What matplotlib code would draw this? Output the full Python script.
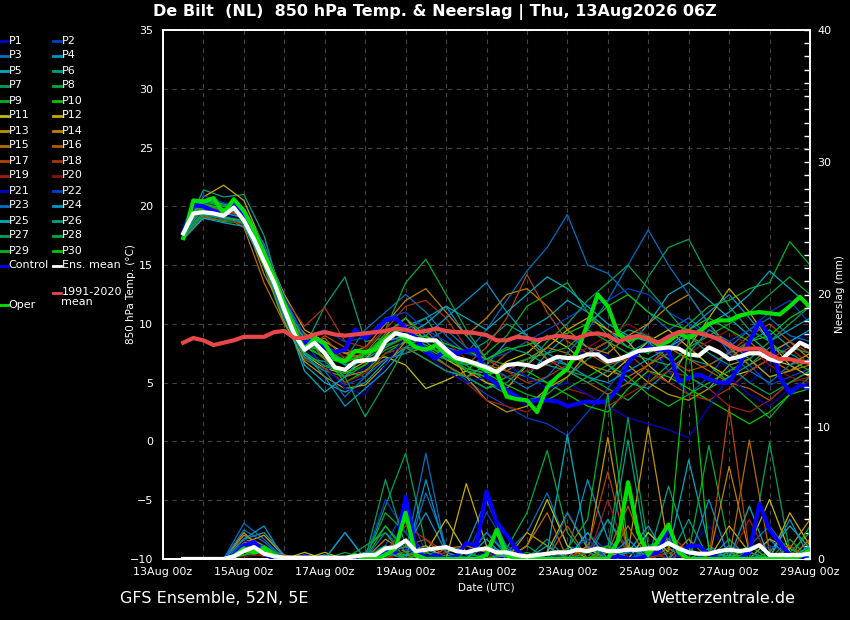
import numpy as np
import matplotlib
matplotlib.use("Agg")
import matplotlib.pyplot as plt
from matplotlib.ticker import MultipleLocator

# forecast hours since 13Aug 00z
hours = np.arange(12, 385, 6)      # control / oper / mean / climate (6h)
hours_m = np.arange(12, 385, 12)   # ensemble members (read every 12h)

date_ticks = [0, 48, 96, 144, 192, 240, 288, 336, 384]
date_labels = ['13Aug 00z', '15Aug 00z', '17Aug 00z', '19Aug 00z', '21Aug 00z',
               '23Aug 00z', '25Aug 00z', '27Aug 00z', '29Aug 00z']
temp_ticks = [-10, -5, 0, 5, 10, 15, 20, 25, 30, 35]
prec_ticks = [0, 10, 20, 30, 40]

# 850 hPa temperature (deg C)
mean_t = [17.7, 19.4, 19.5, 19.4, 19.2, 19.9, 18.8, 17.2, 15.3, 13.5,
          11.2, 9.1, 7.8, 8.4, 7.5, 6.3, 6.1, 6.8, 6.9, 7.0,
          8.5, 9.2, 9.0, 8.7, 8.6, 8.6, 7.8, 7.1, 6.9, 6.6,
          6.3, 5.9, 6.5, 6.6, 6.5, 6.3, 6.8, 7.2, 7.1, 7.1,
          7.4, 7.4, 6.8, 7.0, 7.3, 7.7, 7.8, 7.9, 8.0, 7.9,
          7.4, 7.3, 8.0, 7.6, 7.0, 7.2, 7.5, 7.5, 7.0, 6.8,
          7.6, 8.4, 8.0]
control_t = [17.9, 20.1, 20.0, 19.6, 19.3, 20.2, 19.4, 17.6, 15.6, 13.8,
             11.3, 9.3, 8.4, 8.6, 8.0, 7.6, 7.8, 9.5, 8.8, 9.4,
             10.3, 10.5, 9.6, 8.8, 7.6, 7.1, 7.8, 7.5, 7.7, 7.8,
             5.5, 4.9, 4.4, 3.8, 3.4, 3.5, 3.5, 3.4, 3.0, 3.2,
             3.4, 3.3, 3.5, 4.5, 6.7, 7.6, 8.0, 7.8, 7.8, 5.1,
             5.4, 5.7, 5.3, 5.0, 5.0, 6.4, 8.5, 10.2, 8.9, 5.5,
             4.1, 4.8, 4.5]
oper_t = [17.3, 20.5, 20.4, 20.7, 19.4, 20.6, 19.6, 18.0, 16.0, 14.0,
          11.7, 9.5, 7.8, 8.8, 8.3, 7.0, 6.8, 7.7, 7.6, 7.8,
          8.7, 9.3, 8.7, 8.0, 7.8, 8.2, 7.4, 7.0, 6.8, 6.5,
          6.0, 5.9, 3.8, 3.6, 3.5, 2.5, 4.6, 5.5, 6.2, 7.7,
          10.0, 12.5, 11.5, 9.2, 8.6, 8.9, 8.8, 8.2, 8.5, 9.2,
          8.8, 9.3, 10.0, 10.3, 10.3, 10.7, 10.9, 11.0, 10.9, 10.8,
          11.5, 12.3, 11.4]
clim_t = [8.4, 8.8, 8.6, 8.2, 8.4, 8.6, 8.9, 8.9, 8.9, 9.3,
          9.4, 8.8, 8.8, 9.1, 9.3, 9.1, 9.0, 9.1, 9.2, 9.3,
          9.4, 9.6, 9.5, 9.3, 9.4, 9.6, 9.4, 9.3, 9.3, 9.2,
          9.05, 8.6, 8.6, 8.9, 8.8, 8.6, 8.8, 9.0, 8.9, 8.8,
          9.1, 9.2, 9.0, 8.5, 8.8, 9.0, 8.7, 8.4, 8.9, 9.3,
          9.4, 9.2, 9.0, 8.7, 8.2, 7.8, 7.9, 7.9, 7.4, 7.0,
          7.0, 6.8, 6.7]

# precipitation (mm)
mean_p = [0, 0, 0, 0, 0, 0.2, 0.6, 0.9, 0.4, 0.2,
          0.1, 0.1, 0.1, 0.1, 0.1, 0.1, 0.1, 0.2, 0.3, 0.3,
          0.8, 0.9, 1.4, 0.6, 0.7, 0.8, 0.9, 0.6, 0.5, 0.7,
          0.8, 0.5, 0.5, 0.3, 0.2, 0.3, 0.4, 0.5, 0.5, 0.7,
          0.6, 0.8, 0.6, 0.6, 0.7, 0.7, 0.8, 0.8, 1.2, 0.8,
          0.5, 0.4, 0.4, 0.6, 0.7, 0.6, 0.7, 1.05, 0.3, 0.3,
          0.3, 0.3, 0.4]
control_p = [0, 0, 0, 0, 0, 0.3, 1.0, 1.3, 0.4, 0,
             0, 0, 0.2, 0, 0, 0, 0, 0.2, 0, 0,
             0.8, 0.5, 4.7, 0.8, 0, 0.3, 0, 0.2, 1.2, 1.0,
             5.1, 2.8, 1.8, 0.7, 0, 0, 0, 0, 0, 0,
             0, 0, 0, 0.2, 0, 0, 0.3, 0.5, 2.4, 0.3,
             1.0, 1.0, 0.3, 0, 0, 0, 0.5, 4.2, 2.2, 1.2,
             0.3, 0, 0.5]
oper_p = [0, 0, 0, 0, 0, 0.2, 0.8, 0.5, 0.8, 0.2,
          0, 0, 0, 0, 0, 0, 0, 0.3, 0, 0,
          0.3, 0.8, 3.5, 0.3, 0, 0, 0, 0, 0, 0,
          0.3, 2.2, 0.3, 0, 0, 0, 0, 0, 0, 0,
          0, 0, 0, 1.4, 5.8, 2.0, 0.3, 1.4, 2.6, 0.5,
          0, 0, 0, 0, 0, 0, 0, 0, 0, 0,
          0, 0.2, 0.7]

# ensemble members, temperature
t_p1 = [17.6, 19.8, 19.4, 19.0, 15.0, 10.5, 7.2, 6.8, 5.5, 6.2, 8.0, 9.5, 9.0, 8.2, 6.0, 5.0, 4.2, 3.0, 4.5, 6.5, 8.0, 7.2, 6.0, 5.5, 7.8, 9.0, 7.5, 6.2, 5.0, 6.5, 8.5, 9.2]
t_p2 = [17.9, 20.3, 19.8, 19.3, 16.2, 11.8, 8.5, 6.2, 4.8, 5.5, 9.0, 10.5, 8.0, 6.5, 5.2, 4.0, 3.0, 2.0, 1.5, 0.5, 2.5, 4.5, 6.8, 8.5, 6.0, 4.0, 5.5, 7.8, 6.5, 4.8, 5.5, 6.2]
t_p3 = [17.5, 19.2, 19.0, 18.6, 15.8, 11.0, 8.8, 7.5, 7.0, 9.5, 11.0, 12.5, 11.0, 9.0, 7.5, 9.5, 12.0, 14.5, 16.5, 19.3, 15.0, 14.3, 12.5, 11.0, 9.5, 10.5, 9.0, 8.0, 9.5, 10.5, 9.0, 8.5]
t_p4 = [18.2, 20.0, 19.6, 19.4, 16.8, 12.0, 9.0, 8.2, 6.5, 7.0, 8.5, 9.8, 10.5, 11.5, 9.0, 7.0, 6.0, 5.5, 7.5, 9.0, 8.0, 6.5, 5.0, 4.5, 6.0, 7.5, 9.5, 8.5, 7.0, 5.5, 6.0, 7.0]
t_p5 = [17.3, 19.0, 18.8, 18.9, 15.5, 10.8, 6.5, 5.0, 4.2, 5.0, 6.8, 8.0, 7.0, 6.0, 5.5, 6.5, 8.5, 9.5, 10.5, 12.0, 11.0, 9.5, 8.0, 10.0, 12.5, 13.5, 12.0, 10.5, 9.0, 7.5, 8.5, 9.5]
t_p6 = [17.8, 21.4, 20.8, 21.0, 17.5, 11.5, 8.0, 11.5, 14.0, 8.5, 8.8, 9.5, 10.5, 8.0, 7.5, 8.5, 10.0, 9.0, 7.0, 6.5, 7.5, 8.5, 9.5, 9.0, 8.0, 7.0, 6.5, 7.5, 8.5, 9.5, 8.0, 7.5]
t_p7 = [17.6, 19.4, 19.0, 18.5, 15.2, 10.8, 7.5, 6.5, 6.0, 5.5, 7.5, 8.5, 7.5, 7.0, 6.5, 5.0, 4.0, 3.5, 4.0, 5.5, 7.0, 8.0, 10.5, 14.0, 16.5, 17.2, 14.0, 11.5, 9.5, 8.5, 10.0, 11.5]
t_p8 = [18.0, 20.6, 20.2, 19.8, 16.0, 11.5, 8.3, 7.0, 6.8, 7.5, 9.5, 13.5, 15.5, 12.5, 9.5, 7.0, 6.5, 5.5, 5.0, 6.0, 5.5, 4.5, 3.5, 5.0, 6.5, 8.0, 6.5, 5.0, 3.5, 2.0, 4.0, 5.5]
t_p9 = [17.4, 19.2, 18.7, 18.6, 14.8, 10.0, 7.0, 6.0, 5.5, 6.5, 7.8, 8.5, 8.0, 7.0, 6.0, 7.5, 9.0, 11.5, 12.5, 13.5, 11.0, 9.0, 8.0, 7.5, 8.5, 10.0, 11.5, 12.0, 13.0, 13.5, 17.0, 15.0]
t_p10 = [17.9, 20.4, 20.0, 19.5, 15.8, 11.2, 8.0, 7.2, 5.0, 6.0, 7.5, 8.0, 7.8, 6.5, 5.5, 4.5, 5.5, 6.0, 5.0, 4.0, 3.0, 2.5, 4.5, 6.0, 5.5, 4.5, 3.5, 2.5, 1.5, 2.5, 4.0, 4.5]
t_p11 = [17.7, 19.6, 19.3, 19.5, 15.6, 10.6, 7.4, 6.2, 5.8, 6.8, 7.2, 6.5, 4.5, 5.2, 6.0, 5.5, 6.8, 7.5, 9.0, 8.0, 6.5, 5.5, 7.0, 8.5, 9.5, 8.0, 6.5, 5.5, 6.0, 7.0, 6.5, 5.5]
t_p12 = [18.1, 20.8, 21.8, 20.5, 16.5, 12.5, 9.5, 8.5, 7.5, 7.0, 9.0, 10.5, 8.5, 7.0, 6.0, 5.0, 4.5, 6.5, 8.0, 9.5, 10.5, 9.5, 8.5, 6.5, 5.0, 8.0, 10.5, 13.0, 11.0, 8.5, 6.5, 7.5]
t_p13 = [17.5, 19.3, 19.1, 18.7, 15.0, 10.2, 6.8, 5.5, 4.5, 4.8, 6.5, 8.5, 9.0, 8.0, 5.5, 3.5, 2.5, 3.0, 4.5, 5.5, 7.5, 8.5, 6.5, 5.0, 4.0, 3.5, 4.5, 6.5, 7.0, 5.5, 6.0, 7.0]
t_p14 = [17.8, 19.9, 19.5, 19.0, 14.2, 11.0, 9.2, 8.0, 7.5, 8.0, 10.0, 12.0, 13.0, 11.0, 9.0, 10.5, 12.5, 13.0, 11.5, 9.5, 8.0, 7.5, 9.0, 10.0, 11.5, 12.5, 10.0, 8.0, 6.5, 7.5, 8.5, 7.0]
t_p15 = [17.6, 19.5, 19.2, 18.2, 13.5, 10.0, 9.0, 7.0, 5.5, 6.0, 7.0, 7.5, 8.0, 7.5, 7.0, 6.5, 6.0, 7.0, 8.0, 7.5, 6.5, 6.0, 5.5, 6.5, 7.5, 9.0, 8.0, 7.0, 8.5, 7.0, 6.0, 6.5]
t_p16 = [18.0, 20.2, 19.8, 19.6, 16.3, 11.6, 8.2, 8.8, 7.0, 7.5, 9.0, 8.5, 7.5, 6.5, 5.5, 6.0, 7.5, 8.5, 7.0, 6.0, 5.0, 4.0, 5.0, 6.5, 8.0, 7.0, 6.0, 5.0, 4.5, 3.5, 5.0, 6.0]
t_p17 = [17.3, 19.1, 18.8, 18.8, 15.5, 11.3, 7.6, 9.0, 8.0, 6.5, 8.0, 8.8, 9.5, 7.5, 6.5, 8.0, 10.5, 14.2, 11.0, 8.5, 7.5, 6.5, 7.0, 8.0, 7.0, 6.0, 6.5, 7.5, 9.0, 10.0, 8.5, 7.5]
t_p18 = [17.9, 20.0, 19.6, 19.2, 15.9, 12.2, 9.8, 11.4, 8.5, 8.0, 9.5, 11.5, 12.0, 10.5, 8.0, 7.0, 6.0, 5.0, 5.5, 6.5, 7.5, 8.5, 7.5, 6.0, 5.0, 4.0, 3.5, 4.5, 6.0, 7.0, 8.0, 6.5]
t_p19 = [17.5, 19.4, 19.0, 18.4, 15.0, 10.6, 7.0, 6.2, 5.0, 5.8, 7.5, 8.0, 7.0, 6.0, 5.0, 3.5, 3.0, 2.5, 3.5, 4.5, 4.0, 3.0, 4.0, 5.0, 6.0, 5.5, 4.5, 3.0, 2.5, 3.5, 5.0, 5.5]
t_p20 = [17.8, 19.7, 19.5, 19.1, 15.7, 11.4, 8.0, 7.8, 7.2, 7.8, 9.5, 10.0, 9.5, 8.5, 7.0, 6.0, 5.5, 6.0, 6.5, 7.0, 8.0, 9.0, 10.0, 9.0, 8.0, 7.5, 8.5, 9.5, 8.0, 6.5, 5.5, 5.0]
t_p21 = [17.6, 19.6, 19.2, 18.9, 15.4, 11.0, 7.8, 6.5, 4.5, 4.0, 6.5, 9.0, 7.5, 6.0, 5.0, 5.5, 6.5, 5.5, 4.5, 5.0, 4.0, 3.0, 2.0, 1.5, 1.0, 0.3, 3.0, 5.5, 4.0, 3.0, 4.5, 5.0]
t_p22 = [18.3, 20.9, 20.3, 19.9, 16.6, 12.3, 8.9, 9.5, 8.5, 8.8, 10.5, 11.0, 9.5, 8.5, 7.5, 7.0, 7.5, 8.5, 9.5, 10.5, 11.5, 12.0, 13.0, 12.5, 11.0, 10.0, 9.0, 8.5, 9.5, 11.0, 12.0, 10.0]
t_p23 = [17.4, 19.3, 18.9, 18.7, 15.1, 10.4, 7.2, 6.0, 3.8, 5.5, 7.0, 7.5, 8.5, 9.5, 8.0, 6.5, 5.5, 4.5, 5.5, 7.5, 9.5, 12.0, 15.0, 18.0, 15.0, 12.5, 10.0, 7.5, 6.0, 5.0, 6.5, 7.0]
t_p24 = [17.7, 19.8, 19.4, 19.1, 15.6, 11.1, 7.5, 5.5, 3.0, 4.5, 6.0, 8.0, 9.0, 10.5, 12.0, 13.5, 11.0, 9.0, 7.5, 6.5, 5.5, 5.0, 6.0, 7.0, 8.0, 9.5, 11.0, 12.5, 10.5, 8.5, 9.5, 10.5]
t_p25 = [17.2, 19.0, 18.6, 18.3, 15.0, 10.9, 6.0, 4.2, 5.5, 7.5, 8.5, 9.0, 10.0, 11.5, 10.5, 9.5, 11.0, 12.5, 14.0, 13.0, 11.5, 10.0, 9.0, 8.5, 8.0, 9.0, 10.0, 11.0, 12.5, 14.5, 13.0, 11.5]
t_p26 = [18.1, 20.5, 20.1, 19.7, 16.1, 11.9, 8.6, 7.4, 6.5, 7.0, 8.0, 9.0, 8.5, 7.0, 6.5, 7.0, 8.0, 7.5, 6.5, 6.0, 5.0, 6.0, 7.5, 8.5, 7.0, 5.5, 4.5, 5.5, 6.5, 8.0, 7.5, 6.5]
t_p27 = [17.5, 19.3, 19.0, 18.6, 15.3, 10.7, 7.1, 6.8, 5.5, 2.1, 5.0, 8.0, 7.0, 6.0, 5.5, 4.5, 5.0, 6.5, 8.5, 10.0, 12.0, 13.5, 15.0, 13.0, 11.0, 9.0, 7.5, 6.5, 5.0, 4.0, 5.0, 6.0]
t_p28 = [17.9, 20.1, 19.7, 19.5, 15.8, 11.3, 8.1, 7.9, 6.9, 7.2, 9.2, 10.5, 9.0, 7.5, 6.0, 5.5, 6.5, 7.0, 7.5, 8.0, 9.5, 8.5, 7.5, 7.0, 6.5, 8.0, 9.0, 10.0, 11.0, 12.5, 14.0, 12.5]
t_p29 = [17.6, 19.5, 19.1, 18.8, 15.4, 11.0, 7.6, 6.4, 5.8, 6.5, 8.2, 8.8, 8.2, 7.2, 6.2, 5.8, 4.8, 4.0, 3.5, 4.5, 5.5, 6.5, 5.5, 4.0, 3.0, 4.0, 5.0, 6.0, 7.0, 8.5, 7.0, 6.0]
t_p30 = [17.8, 20.2, 19.8, 19.4, 15.9, 11.4, 8.1, 7.7, 6.7, 7.4, 8.9, 9.2, 8.9, 8.3, 7.7, 7.0, 7.8, 8.2, 8.8, 9.2, 10.0, 11.5, 12.5, 11.0, 10.0, 9.5, 10.5, 9.5, 8.5, 9.0, 10.5, 11.5]

# ensemble members, precipitation
p_p1 = [0, 0, 0, 1.2, 0.8, 0, 0, 0.2, 0, 0, 0.5, 1.5, 0.3, 0, 0.5, 2.0, 0.8, 0, 0, 0.5, 0, 1.2, 0.5, 0, 0, 0.8, 2.5, 0.5, 0, 1.5, 0, 0.3]
p_p2 = [0, 0, 0, 1.8, 1.0, 0.2, 0, 0, 0, 0.3, 1.0, 4.0, 0.5, 0, 0.2, 3.5, 1.0, 0, 0.3, 0, 2.0, 0.5, 0, 0.8, 0, 0, 0, 1.0, 0.5, 0, 0.8, 0]
p_p3 = [0, 0, 0, 2.7, 1.5, 0, 0.3, 0, 0.2, 0, 2.0, 0.5, 8.0, 0.5, 0, 1.0, 0.5, 2.0, 5.0, 1.0, 0.5, 3.0, 0.8, 0, 1.5, 0.5, 0.3, 0, 1.0, 2.5, 0.5, 0]
p_p4 = [0, 0, 0, 1.5, 2.0, 0.3, 0, 0, 2.0, 0, 0.5, 0.8, 3.5, 0.5, 1.0, 4.5, 0.8, 0, 0, 0.5, 6.0, 1.5, 0, 2.0, 0.5, 0, 0, 1.0, 0, 1.5, 0, 0.5]
p_p5 = [0, 0, 0, 1.0, 0.5, 0, 0, 0.3, 0, 0, 0, 1.0, 0.5, 0, 0, 2.0, 0.3, 0, 0.5, 9.4, 0.8, 0, 1.0, 0, 0.5, 7.5, 1.0, 0, 0, 0.5, 2.5, 0.8]
p_p6 = [0, 0, 0, 0.8, 0.3, 0, 0, 0, 0, 0.5, 2.5, 0.8, 0, 0.3, 0, 0.5, 0, 0, 1.5, 0, 0, 3.0, 0.5, 0, 5.5, 0.8, 0, 1.5, 0, 0, 1.0, 0]
p_p7 = [0, 0, 0, 0.5, 0.8, 0, 0, 0, 0, 0, 4.0, 8.0, 1.0, 0, 0, 0.3, 0, 1.0, 0, 0.5, 0, 0.8, 10.7, 1.0, 1.5, 0, 0.5, 0, 0, 8.8, 0.5, 0]
p_p8 = [0, 0, 0, 0.3, 0.5, 0, 0, 0, 0.5, 0, 3.5, 2.0, 0, 0, 0, 0, 0.8, 3.5, 8.2, 2.0, 0, 0, 0, 0, 0, 0.5, 8.6, 1.0, 0, 0, 0, 1.0]
p_p9 = [0, 0, 0, 0.5, 1.0, 0, 0, 0, 0, 0, 0.5, 0, 0.5, 0, 0, 0, 0, 0.5, 0, 0.8, 3.0, 12.5, 1.0, 0, 0.5, 0, 0, 0.3, 0, 0, 0.5, 2.0]
p_p10 = [0, 0, 0, 1.0, 0.5, 0, 0, 0, 0, 0, 0.3, 0.5, 0, 0, 0.5, 0, 0, 0, 0, 0, 0.5, 1.0, 0, 0, 0.5, 17.0, 0.5, 0, 0, 0, 0.8, 0]
p_p11 = [0, 0, 0, 1.5, 0.8, 0, 0.5, 0, 0, 0, 0.8, 0, 0.5, 3.0, 0.5, 0, 0, 1.0, 4.5, 1.0, 0, 0.5, 0, 2.0, 0.5, 0, 0.3, 0, 1.0, 4.5, 0.5, 0]
p_p12 = [0, 0, 0, 1.2, 1.8, 0.2, 0, 0.5, 0, 0, 0, 0.5, 1.0, 0, 5.7, 1.0, 0, 0, 0.5, 3.5, 0.8, 0, 0, 0, 1.5, 0, 0, 2.5, 0.5, 0, 3.5, 1.0]
p_p13 = [0, 0, 0, 2.0, 0.5, 0, 0, 0, 0, 0, 0.5, 0.3, 0, 0, 0.5, 0.8, 0, 2.0, 1.0, 0, 0.5, 9.2, 0.5, 10.0, 0.8, 0, 0, 0.5, 0, 1.5, 0.8, 3.0]
p_p14 = [0, 0, 0, 1.8, 1.0, 0, 0.3, 0, 0, 0, 1.5, 0.5, 0, 0.8, 1.0, 0.5, 0, 0, 0, 0, 1.0, 0, 0.5, 0, 0, 1.5, 0, 7.0, 0.5, 0, 0, 1.5]
p_p15 = [0, 0, 0, 1.5, 0.5, 0, 0, 0, 0, 0.5, 0, 0, 0.5, 0, 0, 0, 0, 1.0, 3.5, 0, 0.5, 0, 2.5, 0, 0.5, 0, 0.3, 0, 9.0, 0.5, 0, 0]
p_p16 = [0, 0, 0, 1.0, 0.8, 0.3, 0, 0, 0, 0, 0.8, 0, 0, 0.5, 0, 0.3, 0, 0, 0, 2.5, 0, 0.5, 4.0, 0, 0.8, 0, 0, 0.5, 0, 0, 0, 0]
p_p17 = [0, 0, 0, 0.8, 0.3, 0, 0, 0, 0, 0, 0, 1.0, 1.5, 0, 0, 0, 0.5, 0, 0.5, 0, 0.8, 6.6, 0.5, 0, 0, 0.5, 0, 11.5, 0.5, 0, 0, 0.5]
p_p18 = [0, 0, 0, 0.5, 0.2, 0, 0, 0, 0, 0, 0.5, 2.5, 1.5, 0.5, 0, 0, 0, 0, 0.5, 0, 0, 1.0, 0, 0, 2.0, 0.5, 0, 0, 0, 0, 1.0, 0]
p_p19 = [0, 0, 0, 0.3, 0.5, 0, 0, 0, 0, 0, 0, 0.5, 0, 0.5, 0, 0, 0, 0, 0, 0.5, 0, 4.5, 0, 0.5, 0, 0, 0.5, 0, 3.0, 0, 0, 0]
p_p20 = [0, 0, 0, 0.2, 0.3, 0, 0, 0, 0, 0, 0, 0.5, 0, 0, 0, 0.3, 0, 0, 0, 0, 0.5, 0, 0, 0, 0.5, 0, 0, 0, 0.5, 0, 0, 0]
p_p21 = [0, 0, 0, 1.5, 0.5, 0, 0, 0, 0, 0, 0.5, 0.8, 0, 0, 0, 0.5, 0, 0, 0, 0, 0, 0, 0.5, 0, 0, 0, 0.5, 0, 0, 0, 0, 0]
p_p22 = [0, 0, 0, 1.2, 1.0, 0, 0, 0, 0, 0, 4.5, 2.0, 0.5, 0, 0, 0, 0, 0, 0, 0.5, 1.5, 0, 0.5, 0, 0, 0.5, 0, 0, 0, 1.0, 0.5, 0]
p_p23 = [0, 0, 0, 2.2, 1.3, 0, 0, 0, 0, 0, 0.5, 0, 5.0, 1.0, 0, 2.0, 0.5, 0, 0, 3.5, 1.0, 0, 0, 0.5, 1.5, 0, 0, 0, 0.5, 0, 0, 0]
p_p24 = [0, 0, 0, 1.5, 2.5, 0, 0, 0, 2.0, 0, 1.0, 0, 6.0, 0.5, 0, 0, 0.3, 0, 0, 0, 0, 0, 1.5, 0, 0, 0, 4.5, 0, 0, 0, 3.0, 0]
p_p25 = [0, 0, 0, 0.8, 0.5, 0, 0, 0, 0, 0, 0.5, 0.3, 0.8, 0, 0, 1.5, 0, 0, 1.0, 0, 2.0, 0, 0.5, 2.5, 0, 0, 0.8, 0, 4.0, 0, 0, 1.0]
p_p26 = [0, 0, 0, 0.5, 0.8, 0, 0, 0, 0, 0.5, 0.5, 0, 0, 0, 0, 0, 0, 0, 0, 0, 0, 0, 9.0, 0, 0, 3.0, 0, 0.5, 0, 0, 0, 0]
p_p27 = [0, 0, 0, 0.3, 0.5, 0, 0, 0, 0, 0, 6.0, 1.0, 0, 0, 0, 0, 0, 0, 0, 0, 0.5, 0, 0, 0, 0, 0, 0, 0, 0, 0, 1.5, 0]
p_p28 = [0, 0, 0, 1.0, 0.3, 0, 0, 0, 0, 1.0, 2.0, 0, 0.5, 0, 0, 0, 0, 0, 0, 0, 0, 0, 0, 0, 0, 0, 0, 0, 0.5, 0, 0, 2.5]
p_p29 = [0, 0, 0, 0.5, 0.5, 0, 0, 0, 0, 0, 2.5, 0.5, 0, 0, 0.5, 0, 0, 0, 0, 0, 0, 0, 0, 0, 0, 0, 0, 0, 0, 0, 0, 0]
p_p30 = [0, 0, 0, 0.3, 1.0, 0, 0, 0, 0, 0, 1.0, 0, 0, 0, 0, 0, 0.5, 0, 0, 0, 0, 1.0, 0, 0, 0, 0, 0, 0, 1.0, 0, 0, 0]

members_t = [t_p1, t_p2, t_p3, t_p4, t_p5, t_p6, t_p7, t_p8, t_p9, t_p10,
             t_p11, t_p12, t_p13, t_p14, t_p15, t_p16, t_p17, t_p18, t_p19, t_p20,
             t_p21, t_p22, t_p23, t_p24, t_p25, t_p26, t_p27, t_p28, t_p29, t_p30]
members_p = [p_p1, p_p2, p_p3, p_p4, p_p5, p_p6, p_p7, p_p8, p_p9, p_p10,
             p_p11, p_p12, p_p13, p_p14, p_p15, p_p16, p_p17, p_p18, p_p19, p_p20,
             p_p21, p_p22, p_p23, p_p24, p_p25, p_p26, p_p27, p_p28, p_p29, p_p30]

# colour cycle of the members (repeats after P20)
member_colors = ['#0000c8', '#0040c8', '#0070c0', '#0096c8', '#00aabe',
                 '#00a082', '#00a05a', '#00aa3c', '#00b41e', '#00c800',
                 '#bebe00', '#c8aa00', '#be9600', '#be8200', '#b46e00',
                 '#b45a00', '#b44600', '#aa3210', '#a01e10', '#8c1010']
c_control = '#0000ff'
c_oper = '#00e000'
c_mean = '#ffffff'
c_clim = '#e84848'

plt.rcParams['font.family'] = ['DejaVu Sans']

fig = plt.figure(figsize=(8.5, 6.2), dpi=100, facecolor='black')
ax = fig.add_axes([163 / 850, 1 - 559 / 620, 647 / 850, 529 / 620], facecolor='black')
ax2 = ax.twinx()

for k in range(30):
    col = member_colors[k % 20]
    ax.plot(hours_m, members_t[k], color=col, lw=0.9, zorder=2)
    ax2.plot(hours_m, members_p[k], color=col, lw=0.9, zorder=2)

ax.plot(hours, control_t, color=c_control, lw=3, zorder=4)
ax.plot(hours, oper_t, color=c_oper, lw=3, zorder=5)
ax.plot(hours, mean_t, color=c_mean, lw=3, zorder=6)
ax.plot(hours, clim_t, color=c_clim, lw=3, zorder=7)

ax2.plot(hours, control_p, color=c_control, lw=3, zorder=4)
ax2.plot(hours, oper_p, color=c_oper, lw=3, zorder=5)
ax2.plot(hours, mean_p, color=c_mean, lw=3, zorder=6)

ax.set_xlim(0, 384)
ax.set_ylim(-10, 35)
ax2.set_ylim(0, 40)

ax.set_xticks(date_ticks)
ax.set_xticklabels(date_labels)
ax.xaxis.set_minor_locator(MultipleLocator(24))
ax.set_yticks(temp_ticks)
ax2.set_yticks(prec_ticks)
ax2.yaxis.set_minor_locator(MultipleLocator(1))

ax.grid(True, which='both', axis='x', color='#444444', lw=0.8, ls=(0, (4, 4)))
ax.grid(True, which='major', axis='y', color='#444444', lw=0.8, ls=(0, (4, 4)))

ax.tick_params(axis='x', which='both', length=0, colors='white', labelsize=8, pad=6)
ax.tick_params(axis='y', which='both', length=0, colors='white', labelsize=8, pad=7)
ax2.tick_params(axis='y', which='both', direction='in', length=4, width=1,
                colors='white', labelsize=8, pad=5)

for a in (ax, ax2):
    for s in a.spines.values():
        s.set_color('white')
        s.set_linewidth(1.2)

ax.set_xlabel('Date (UTC)', color='white', fontsize=7.5, labelpad=4)
ax.set_ylabel('850 hPa Temp. (°C)', color='white', fontsize=7.5)
ax.yaxis.set_label_coords(-0.041, 0.5)
ax2.set_ylabel('Neerslag (mm)', color='white', fontsize=7.5)
ax2.yaxis.set_label_coords(1.039, 0.5)

fig.text(0.512, 0.981, 'De Bilt  (NL)  850 hPa Temp. & Neerslag | Thu, 13Aug2026 06Z',
         color='white', fontsize=11.5, fontweight='bold', ha='center', va='center')
fig.text(120 / 850, 0.034, 'GFS Ensemble, 52N, 5E', color='white', fontsize=11.5,
         ha='left', va='center')
fig.text(650 / 850, 0.034, 'Wetterzentrale.de', color='white', fontsize=11.5,
         ha='left', va='center')

# legend, two columns at the left edge (pixel units)
lg = fig.add_axes([0, 0, 125 / 850, 1])
lg.set_xlim(0, 125)
lg.set_ylim(620, 0)
lg.axis('off')

col1 = [('P%d' % (2 * r + 1), member_colors[(2 * r) % 20]) for r in range(15)] + [('Control', c_control)]
col2 = [('P%d' % (2 * r + 2), member_colors[(2 * r + 1) % 20]) for r in range(15)] + [('Ens. mean', c_mean)]
for r, (name, col) in enumerate(col1):
    y = 40.5 + 15 * r
    lg.plot([0, 8], [y, y], color=col, lw=2)
    lg.text(8.5, y, name, color='white', fontsize=8, va='center', ha='left')
for r, (name, col) in enumerate(col2):
    y = 40.5 + 15 * r
    lg.plot([53, 61], [y, y], color=col, lw=2)
    lg.text(61.5, y, name, color='white', fontsize=8, va='center', ha='left')
lg.plot([53, 61], [293, 293], color=c_clim, lw=2)
lg.text(61.5, 287, '1991-2020\nmean', color='white', fontsize=8, va='top', ha='left',
        linespacing=0.95)
lg.plot([0, 8], [305, 305], color=c_oper, lw=2)
lg.text(8.5, 305, 'Oper', color='white', fontsize=8, va='center', ha='left')

fig.savefig('out.png', dpi=100, facecolor='black')
